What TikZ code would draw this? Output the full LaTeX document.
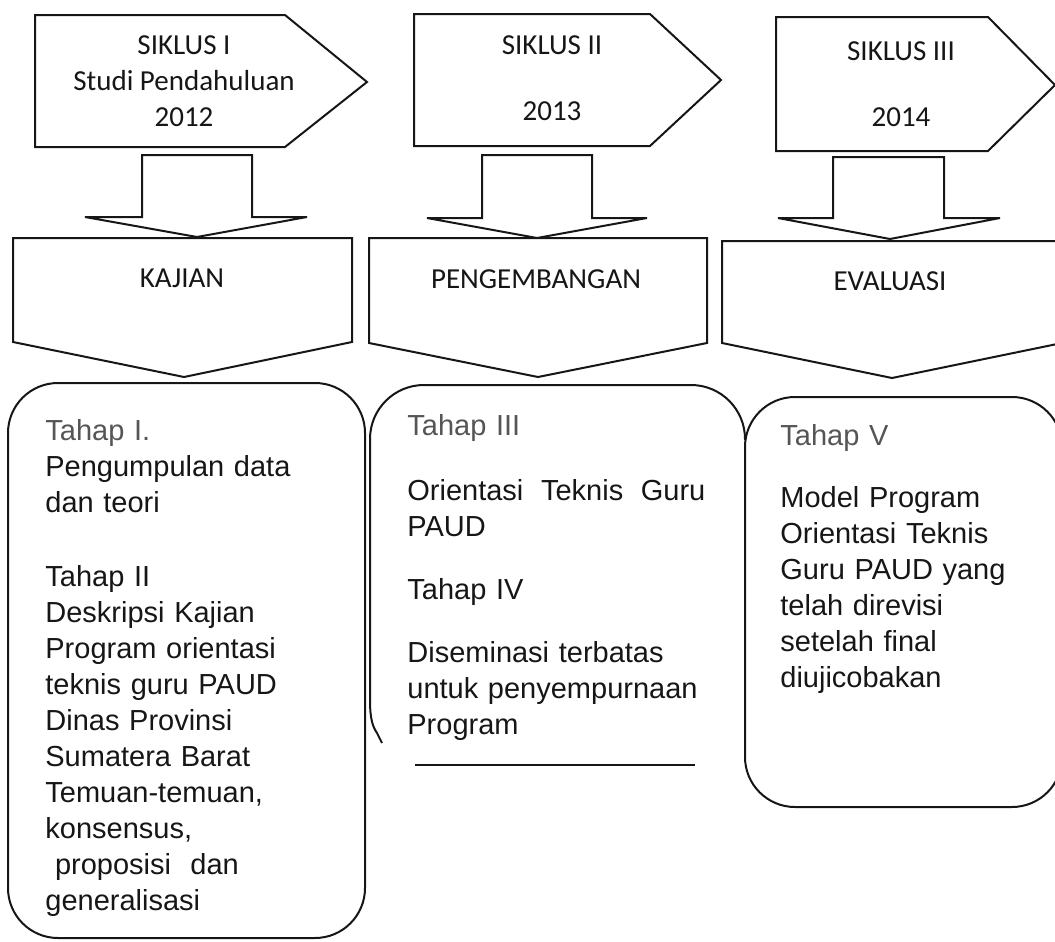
\documentclass[tikz,border=0pt]{standalone}
\usepackage{fontspec}
\usepackage{xcolor}
\usepackage{tikz}
\usetikzlibrary{positioning}
\newfontfamily\calibri{Carlito}
\newfontfamily\arial{Liberation Sans}
\definecolor{ink}  {HTML}{161616}
\definecolor{faded}{HTML}{555555}

\begin{document}
\begin{tikzpicture}[x=0.5pt,y=-0.5pt,
  outline/.style={draw=ink,line width=1pt,line join=miter},
  panel/.style={outline,rounded corners=25pt},
  head/.style={font={\calibri\fontsize{14.5}{18}\selectfont},color=ink,
               align=center,inner sep=0pt},
  body/.style={font={\arial\fontsize{14.5}{18}\selectfont},color=ink,
               align=left,inner sep=0pt,anchor=north west,text width=#1},
  body/.default=160pt]

\useasboundingbox (0,0) rectangle (1055,942);

% siklus signals
\draw[outline] (35,15) -- (285,15) -- (367,82) -- (285,147) -- (35,147) -- cycle;
\draw[outline] (414,14) -- (650,14) -- (721,80) -- (650,146) -- (414,146) -- cycle;
\draw[outline] (776,17) -- (988,17) -- (1055,85) -- (988,151) -- (776,151) -- cycle;

\node[head,anchor=north] (s1) at (184,35) {SIKLUS I\\Studi Pendahuluan\\2012};
\node[head,anchor=north] (s2) at (552,35) {SIKLUS II\\[15pt]2013};
\node[head,anchor=north] (s3) at (901,41) {SIKLUS III\\[15pt]2014};

% block arrows down
\draw[outline] (142,155) -- (252,155) -- (252,217) -- (307,217) -- (197,237)
  -- (85,217) -- (142,217) -- cycle;
\draw[outline] (482,155) -- (592,155) -- (592,218) -- (647,218) -- (537,238)
  -- (427,218) -- (482,218) -- cycle;
\draw[outline] (833,157) -- (944,157) -- (944,218) -- (1000,218) -- (890,239)
  -- (778,218) -- (833,218) -- cycle;

% phases
\draw[outline] (13,238) -- (352,238) -- (352,342) -- (184,377) -- (13,342) -- cycle;
\draw[outline] (369,238) -- (707,238) -- (707,343) -- (538,377) -- (369,343) -- cycle;
\draw[outline] (722,241) -- (1062,241) -- (1062,343) -- (892,378) -- (722,343) -- cycle;

\node[head] (kajian) at (182,278) {KAJIAN};
\node[head] (pengembangan) at (536,279) {PENGEMBANGAN};
\node[head] (evaluasi) at (890,281) {EVALUASI};

% tahap panels
\draw[panel] (8,383) rectangle (365,938);
\draw[outline,rounded corners=27pt] (370,700) -- (370,385) -- (745,385) -- (745,440);
\draw[outline] (370,700) .. controls (370,720) and (373,727) .. (377,733) -- (382,743);
\draw[outline] (415,765) -- (695,765);
\draw[panel] (745,397) rectangle (1062,807);

\node[body] (t1) at (45,419)
  {\textcolor{faded}{Tahap I.}\\Pengumpulan data\\dan teori\\[19pt]
   Tahap II\\Deskripsi Kajian\\Program orientasi\\teknis guru PAUD\\
   Dinas Provinsi\\Sumatera Barat\\Temuan-temuan,\\konsensus,\\
   \ proposisi\ \ dan\\generalisasi};
\node[body=149pt] (t2) at (407,414)
  {\textcolor{faded}{Tahap III}\\[14.5pt]Orientasi\hfill Teknis\hfill Guru\\PAUD\\[13.5pt]
   Tahap IV\\[13.5pt]Diseminasi terbatas\\untuk penyempurnaan\\Program};
\node[body] (t3) at (780,424)
  {\textcolor{faded}{Tahap V}\\[13pt]Model Program\\Orientasi Teknis\\Guru PAUD yang\\
   telah direvisi\\setelah final\\diujicobakan};
\end{tikzpicture}
\end{document}
